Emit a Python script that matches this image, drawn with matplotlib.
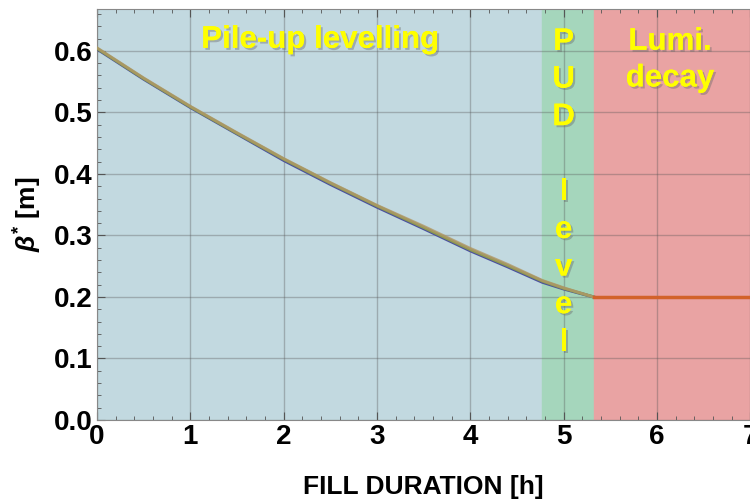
import numpy as np
import matplotlib.pyplot as plt
import matplotlib.patheffects as pe
from matplotlib.ticker import MultipleLocator

plt.rcParams['font.family'] = ['Liberation Sans', 'DejaVu Sans']
plt.rcParams['mathtext.fontset'] = 'custom'
plt.rcParams['mathtext.rm'] = 'Liberation Sans:bold'
plt.rcParams['mathtext.it'] = 'Liberation Sans:bold:italic'
plt.rcParams['mathtext.bf'] = 'Liberation Sans:bold'

# beta* vs fill duration
t_level = [0.0, 0.5, 1.0, 1.5, 2.0, 2.5, 3.0, 3.5, 4.0, 4.4, 4.77, 5.0, 5.32]
beta_blue = [0.603, 0.554, 0.508, 0.465, 0.422, 0.383, 0.346, 0.311, 0.275, 0.249, 0.224, 0.213, 0.200]
beta_green = [0.604, 0.555, 0.509, 0.466, 0.424, 0.385, 0.348, 0.313, 0.277, 0.251, 0.226, 0.214, 0.200]
beta_orange = [0.605, 0.556, 0.510, 0.467, 0.425, 0.386, 0.349, 0.315, 0.279, 0.253, 0.227, 0.215, 0.200]
t_decay = [5.32, 8.0]
beta_decay = [0.200, 0.200]

# phase boundaries [h]
pud_start = 4.77
pud_end = 5.32

fig = plt.figure(figsize=(7.5, 5.01), dpi=100)
ax = fig.add_axes([97 / 750, 81 / 501, 700 / 750, 411 / 501])
ax.set_xlim(0, 7.5)
ax.set_ylim(0, 0.668)

ax.axvspan(0, pud_start, color='#c2d9e0', zorder=0)
ax.axvspan(pud_start, pud_end, color='#a5d6bc', zorder=0)
ax.axvspan(pud_end, 7.5, color='#e9a3a3', zorder=0)

ax.plot(t_level, beta_blue, color='#4a4fa0', lw=2.2, zorder=3)
ax.plot(t_level, beta_green, color='#8a9a50', lw=2.2, zorder=4)
ax.plot(t_level, beta_orange, color='#b09868', lw=2.0, alpha=0.8, zorder=5)
ax.plot(t_decay, beta_decay, color='#d2622a', lw=2.5, zorder=5)

ax.xaxis.set_major_locator(MultipleLocator(1))
ax.xaxis.set_minor_locator(MultipleLocator(0.2))
ax.yaxis.set_major_locator(MultipleLocator(0.1))
ax.yaxis.set_minor_locator(MultipleLocator(0.02))
ax.yaxis.set_major_formatter(plt.FormatStrFormatter('%.1f'))
ax.grid(True, which='major', color='#555555', alpha=0.35, lw=1, zorder=1)
ax.tick_params(which='both', direction='in', top=True, right=True, color='#555555')
ax.tick_params(which='major', length=6, labelsize=20, pad=3)
ax.tick_params(which='minor', length=3)
for lab in ax.get_xticklabels() + ax.get_yticklabels():
    lab.set_fontweight('bold')
for s in ax.spines.values():
    s.set_color('#888888')

ax.set_xlabel('FILL DURATION [h]', fontsize=19, fontweight='bold')
ax.xaxis.set_label_coords((423 - 97) / 700, -0.135)
ax.set_ylabel(r'$\beta^{*}$ [m]', fontsize=19, fontweight='bold')
ax.yaxis.set_label_coords(-0.076, 0.5)

shadow = [pe.withSimplePatchShadow(offset=(1.5, -1.5), shadow_rgbFace='#666666', alpha=0.4), pe.Normal()]
txt = dict(color='#ffff00', fontweight='bold', fontsize=22.5, ha='center', va='center',
           path_effects=shadow, zorder=6)
ax.text(2.39, 0.618, 'Pile-up levelling', **txt)
ax.text(5.0, 0.37, 'P\nU\nD\n\nl\ne\nv\ne\nl', linespacing=1.33, **txt)
ax.text(6.14, 0.585, 'Lumi.\ndecay', linespacing=1.29, **txt)

fig.savefig('out.png', dpi=100)
